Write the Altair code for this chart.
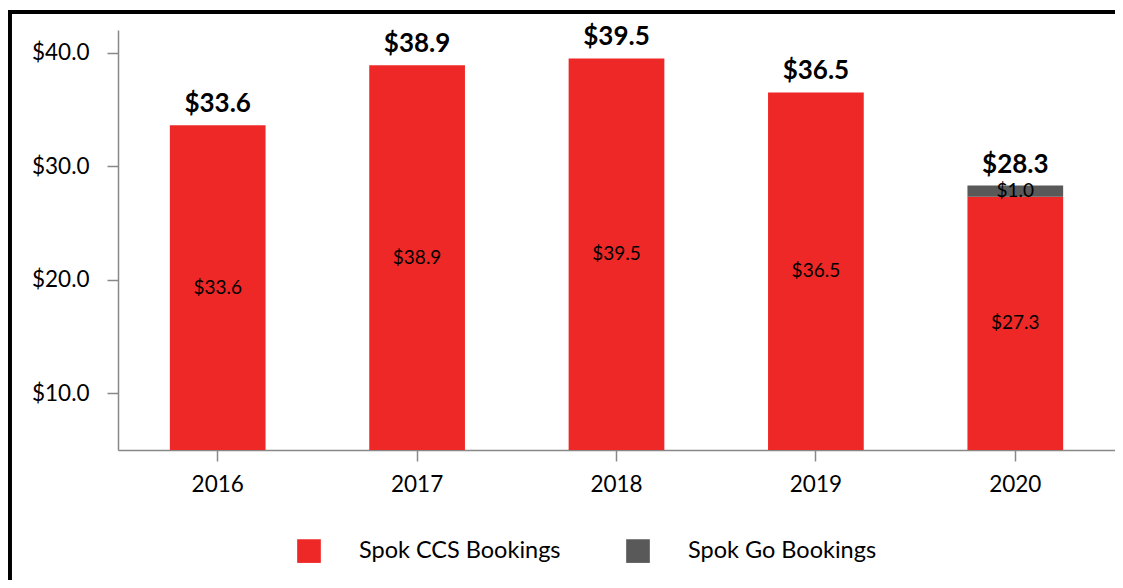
import altair as alt
import pandas as pd

years = ["2016", "2017", "2018", "2019", "2020"]
ccs = [33.6, 38.9, 39.5, 36.5, 27.3]
go = [0.0, 0.0, 0.0, 0.0, 1.0]
totals = [33.6, 38.9, 39.5, 36.5, 28.3]
series = ["Spok CCS Bookings", "Spok Go Bookings"]
colors = ["#EE2826", "#595959"]
y_ticks = [10, 20, 30, 40]

rows = []
for i, yr in enumerate(years):
    rows.append({"year": yr, "series": series[0], "value": ccs[i], "ord": 0})
    if go[i] > 0:
        rows.append({"year": yr, "series": series[1], "value": go[i], "ord": 1})
df = pd.DataFrame(rows)
tot_df = pd.DataFrame({"year": years, "total": totals})

FONT = "Lato"
LBL = 22.5

x = alt.X("year:N", title=None, sort=years,
          scale=alt.Scale(paddingInner=0.52, paddingOuter=0.26),
          axis=alt.Axis(labelAngle=0, labelFontSize=LBL, labelColor="#000000",
                        labelFont=FONT, labelPadding=12, tickSize=11,
                        tickColor="#888888", domainColor="#888888",
                        domainWidth=1.5, tickWidth=1.5))
yscale = alt.Scale(domain=[5, 42], zero=False, nice=False)

base = alt.Chart(df).transform_stack(
    stack="value", groupby=["year"], as_=["v0", "v1"],
    sort=[alt.SortField("ord", order="ascending")]
)

bars = base.mark_bar(clip=True).encode(
    x=x,
    y=alt.Y("v1:Q", scale=yscale, title=None,
            axis=alt.Axis(values=y_ticks, labelExpr="'$' + format(datum.value, '.1f')",
                          grid=False, labelFontSize=LBL, labelColor="#000000",
                          labelFont=FONT, labelPadding=18, tickSize=11,
                          tickColor="#888888", domainColor="#888888",
                          domainWidth=1.5, tickWidth=1.5)),
    y2="v0:Q",
    color=alt.Color("series:N", scale=alt.Scale(domain=series, range=colors),
                    legend=alt.Legend(title=None, orient="none", legendX=179,
                                      legendY=509, direction="horizontal",
                                      symbolType="square", symbolSize=560,
                                      symbolStrokeWidth=0, symbolOpacity=1,
                                      labelFontSize=23.5, labelFont=FONT,
                                      labelLimit=0,
                                      labelColor="#000000", labelOffset=38,
                                      columnPadding=65)),
)

inner = base.transform_calculate(
    mid="(max(datum.v0, 5) + datum.v1) / 2",
    lab="'$' + format(datum.value, '.1f')"
).mark_text(fontSize=19, font=FONT, color="#000000", baseline="middle").encode(
    x=alt.X("year:N", sort=years),
    y=alt.Y("mid:Q", scale=yscale),
    text="lab:N",
)

tot = alt.Chart(tot_df).transform_calculate(
    lab="'$' + format(datum.total, '.1f')"
).mark_text(fontSize=26, font=FONT, fontWeight="bold", color="#000000",
            baseline="alphabetic", dy=-13).encode(
    x=alt.X("year:N", sort=years),
    y=alt.Y("total:Q", scale=yscale),
    text="lab:N",
)

frame_left = alt.Chart(tot_df).mark_rule(color="#000000", strokeWidth=4).encode(
    x=alt.value(-108.5), y=alt.value(-20), y2=alt.value(600))
frame_top = alt.Chart(tot_df).mark_rule(color="#000000", strokeWidth=4).encode(
    x=alt.value(-110.5), x2=alt.value(1100), y=alt.value(-18))

chart = alt.layer(bars, inner, tot, frame_left, frame_top).properties(
    width=997, height=420,
    padding={"left": 110, "top": 22, "right": 0, "bottom": 130},
    autosize=alt.AutoSizeParams(type="none"),
).configure(font=FONT).configure_view(stroke=None)

chart.save("out.html", embed_options={"renderer": "svg", "actions": False})
